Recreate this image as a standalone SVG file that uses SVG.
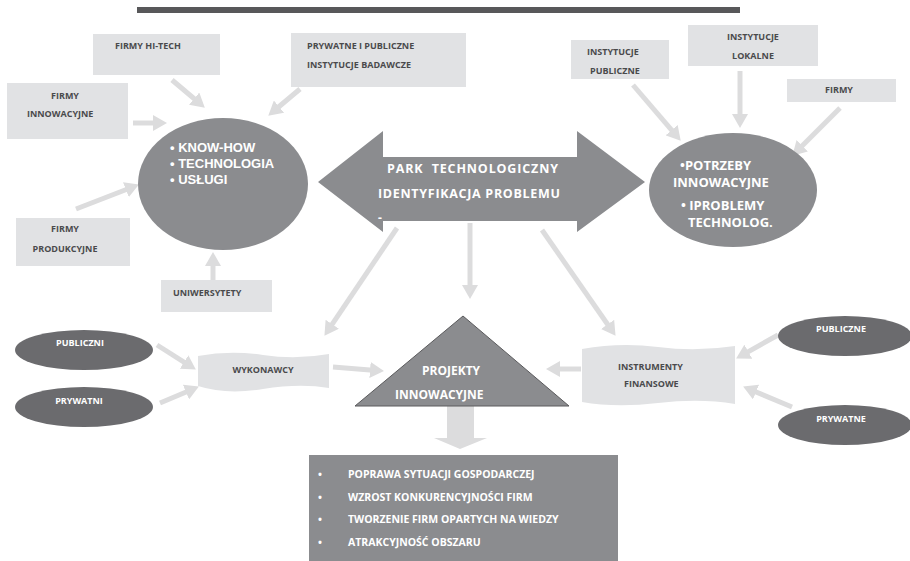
<svg xmlns="http://www.w3.org/2000/svg" width="910" height="561" viewBox="0 0 910 561">
<defs>
<style>
.box{fill:#e1e2e4}
.ell{fill:#8b8c8f}
.dark{fill:#6b6b6e}
.t{font-family:"Open Sans","Liberation Sans",sans-serif;font-weight:bold;fill:#4a4a4c;font-size:9px}
.w{font-family:"Open Sans","Liberation Sans",sans-serif;font-weight:bold;fill:#ffffff}
.wl{font-family:"Liberation Sans","Open Sans",sans-serif;font-weight:bold;fill:#ffffff}
.arr{stroke:#dcdcdd;stroke-width:5;fill:none;marker-end:url(#ah)}
</style>
<marker id="ah" markerUnits="userSpaceOnUse" viewBox="0 0 14 16" markerWidth="14" markerHeight="16" refX="6" refY="8" orient="auto">
<path d="M0,0 L14,8 L0,16 Z" fill="#dcdcdd"/>
</marker>
</defs>
<rect width="910" height="561" fill="#ffffff"/>
<rect x="137" y="7" width="603" height="6" fill="#58585a"/>

<g id="connectors">
<line class="arr" x1="172" y1="80" x2="198.7" y2="102.5"/>
<line class="arr" x1="300" y1="89" x2="274.4" y2="110.5"/>
<line class="arr" x1="133" y1="123" x2="159" y2="123"/>
<line class="arr" x1="76" y1="209" x2="131.5" y2="187.5"/>
<line class="arr" x1="213" y1="280" x2="213" y2="260"/>
<line class="arr" x1="633" y1="85" x2="675.5" y2="134.7"/>
<line class="arr" x1="740" y1="71" x2="740" y2="120"/>
<line class="arr" x1="840" y1="108" x2="798" y2="150"/>
<line class="arr" x1="397" y1="228" x2="328.9" y2="329.2"/>
<line class="arr" x1="470" y1="223" x2="470" y2="291"/>
<line class="arr" x1="542" y1="230" x2="611" y2="329.3"/>
<line class="arr" x1="157" y1="345" x2="189.1" y2="365.3"/>
<line class="arr" x1="160" y1="403" x2="191.5" y2="389.7"/>
<line class="arr" x1="333" y1="367" x2="376" y2="370.4"/>
<line class="arr" x1="581" y1="369" x2="554" y2="369"/>
<line class="arr" x1="778" y1="335" x2="743.1" y2="354.6"/>
<line class="arr" x1="792" y1="407" x2="750.5" y2="389.7"/>
<path d="M447,406 L474,406 L474,438 L487,438 L460,449 L434,438 L447,438 Z" fill="#dcdcdd"/>
</g>

<g id="firmy-hitech">
<rect class="box" x="93" y="34" width="127" height="41"/>
<text class="t" x="115" y="49">FIRMY HI-TECH</text>
</g>
<g id="instytucje-badawcze">
<rect class="box" x="291" y="33" width="175" height="54"/>
<text class="t" x="307" y="49">PRYWATNE I PUBLICZNE</text>
<text class="t" x="307" y="68">INSTYTUCJE BADAWCZE</text>
</g>
<g id="firmy-innowacyjne">
<rect class="box" x="7" y="83" width="121" height="56"/>
<text class="t" x="65" y="99" text-anchor="middle">FIRMY</text>
<text class="t" x="27" y="117">INNOWACYJNE</text>
</g>
<g id="firmy-produkcyjne">
<rect class="box" x="16" y="218" width="114" height="48"/>
<text class="t" x="65" y="232" text-anchor="middle">FIRMY</text>
<text class="t" x="65" y="252" text-anchor="middle">PRODUKCYJNE</text>
</g>
<g id="uniwersytety">
<rect class="box" x="161" y="280" width="111" height="32"/>
<text class="t" x="173" y="296">UNIWERSYTETY</text>
</g>
<g id="know-how">
<ellipse class="ell" cx="223" cy="184" rx="85" ry="66"/>
<text class="wl" font-size="13" x="170" y="152">• KNOW-HOW</text>
<text class="wl" font-size="13" x="170" y="168">• TECHNOLOGIA</text>
<text class="wl" font-size="13" x="170" y="184">• USŁUGI</text>
</g>
<g id="park">
<path d="M318,182 L383,131 L383,157 L577,157 L577,131 L645,182 L577,232 L577,221 L383,221 L383,232 Z" fill="#8b8c8f"/>
<text class="w" font-size="12.5" x="387" y="173" textLength="171" lengthAdjust="spacing" xml:space="preserve">PARK  TECHNOLOGICZNY</text>
<text class="w" font-size="12.5" x="378" y="198" textLength="182" lengthAdjust="spacing">IDENTYFIKACJA PROBLEMU</text>
<text class="w" font-size="12" x="378" y="222">-</text>
</g>
<g id="instytucje-publiczne">
<rect class="box" x="571" y="40" width="98" height="39"/>
<text class="t" x="587" y="55">INSTYTUCJE</text>
<text class="t" x="590" y="74">PUBLICZNE</text>
</g>
<g id="instytucje-lokalne">
<rect class="box" x="688" y="25" width="130" height="41"/>
<text class="t" x="753" y="40" text-anchor="middle">INSTYTUCJE</text>
<text class="t" x="753" y="59" text-anchor="middle">LOKALNE</text>
</g>
<g id="firmy">
<rect class="box" x="787" y="79" width="109" height="23"/>
<text class="t" x="839" y="93" text-anchor="middle">FIRMY</text>
</g>
<g id="potrzeby">
<ellipse class="ell" cx="733" cy="190" rx="84" ry="57"/>
<text class="w" font-size="13" x="680" y="170">•POTRZEBY</text>
<text class="w" font-size="13" x="673" y="187">INNOWACYJNE</text>
<text class="w" font-size="13" x="681" y="210">• IPROBLEMY</text>
<text class="w" font-size="13" x="688" y="227">TECHNOLOG.</text>
</g>
<g id="publiczni">
<ellipse class="dark" cx="84" cy="350" rx="69" ry="20"/>
<text class="w" font-size="9" x="80" y="346" text-anchor="middle">PUBLICZNI</text>
</g>
<g id="prywatni">
<ellipse class="dark" cx="84" cy="407" rx="69" ry="20"/>
<text class="w" font-size="9" x="79" y="404" text-anchor="middle">PRYWATNI</text>
</g>
<g id="wykonawcy">
<path class="box" d="M198,356 Q230,350 263,355 T329,354 L329,388 Q300,383 263,389 T198,386 Z"/>
<text class="t" x="263" y="373" text-anchor="middle">WYKONAWCY</text>
</g>
<g id="projekty">
<path d="M463,316 L569,406 L355,406 Z" fill="#8b8c8f" stroke="#5a5a5c" stroke-width="1"/>
<text class="w" font-size="12" x="422" y="375">PROJEKTY</text>
<text class="w" font-size="12" x="395" y="399">INNOWACYJNE</text>
</g>
<g id="instrumenty">
<path class="box" d="M582,349 Q620,342 658,347 T735,346 L735,404 Q700,398 658,403 T582,402 Z"/>
<text class="t" x="618" y="370">INSTRUMENTY</text>
<text class="t" x="624" y="387">FINANSOWE</text>
</g>
<g id="publiczne">
<ellipse class="dark" cx="845" cy="336" rx="67" ry="20"/>
<text class="w" font-size="9" x="841" y="332" text-anchor="middle">PUBLICZNE</text>
</g>
<g id="prywatne">
<ellipse class="dark" cx="845" cy="425" rx="67" ry="20"/>
<text class="w" font-size="9" x="841" y="422" text-anchor="middle">PRYWATNE</text>
</g>
<g id="efekty">
<rect x="309" y="455" width="309" height="106" fill="#8b8c8f"/>
<g class="w" font-size="10.5">
<text x="318" y="478">•</text><text x="348" y="478">POPRAWA SYTUACJI GOSPODARCZEJ</text>
<text x="318" y="501">•</text><text x="348" y="501">WZROST KONKURENCYJNOŚCI FIRM</text>
<text x="318" y="523">•</text><text x="348" y="523">TWORZENIE FIRM OPARTYCH NA WIEDZY</text>
<text x="318" y="546">•</text><text x="348" y="546">ATRAKCYJNOŚĆ OBSZARU</text>
</g>
</g>
</svg>
